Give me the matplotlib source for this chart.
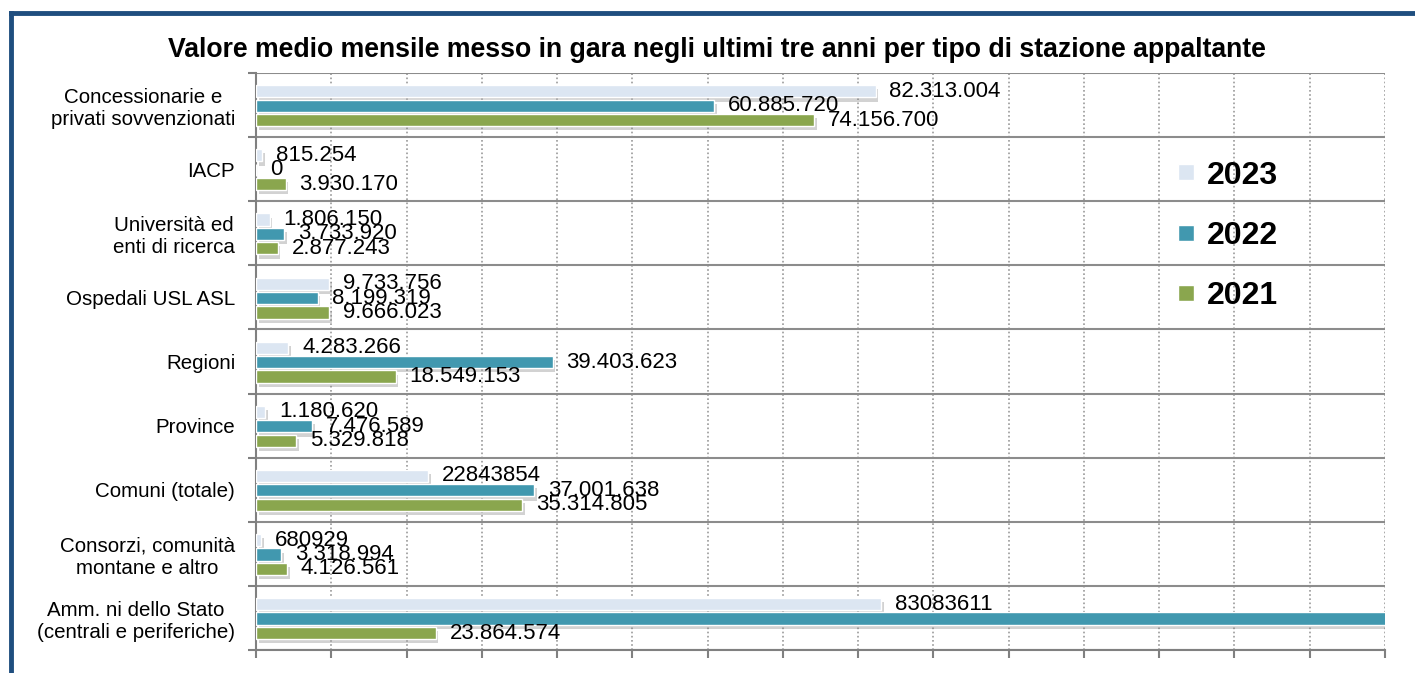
import matplotlib
matplotlib.use('Agg')
import matplotlib.pyplot as plt
import matplotlib.patheffects as pe
from matplotlib.lines import Line2D
import numpy as np

plt.rcParams['font.family'] = ['Liberation Sans', 'DejaVu Sans']

categories = ['Concessionarie e\nprivati sovvenzionati', 'IACP', 'Università ed\nenti di ricerca',
              'Ospedali USL ASL', 'Regioni', 'Province', 'Comuni (totale)',
              'Consorzi, comunità\nmontane e altro', 'Amm. ni dello Stato\n(centrali e periferiche)']
years = ['2023', '2022', '2021']
v2023 = [82313004, 815254, 1806150, 9733756, 4283266, 1180620, 22843854, 680929, 83083611]
v2022 = [60885720, 0, 3733920, 8199319, 39403623, 7476589, 37001638, 3318994, 160000000]
v2021 = [74156700, 3930170, 2877243, 9666023, 18549153, 5329818, 35314805, 4126561, 23864574]
lab2023 = ['82.313.004', '815.254', '1.806.150', '9.733.756', '4.283.266', '1.180.620', '22843854', '680929', '83083611']
lab2022 = ['60.885.720', '0', '3.733.920', '8.199.319', '39.403.623', '7.476.589', '37.001.638', '3.318.994', '']
lab2021 = ['74.156.700', '3.930.170', '2.877.243', '9.666.023', '18.549.153', '5.329.818', '35.314.805', '4.126.561', '23.864.574']
colors = ['#dce6f2', '#4198af', '#8aa64e']

W, H = 1415, 673
fig = plt.figure(figsize=(W / 100, H / 100), dpi=100)
ax = fig.add_axes([256 / W, 1 - 650 / H, (1385 - 256) / W, (650 - 73) / H])

y = np.arange(len(categories))
offsets = [-0.215, 0.01, 0.235]
shadow = [pe.SimplePatchShadow(offset=(2, -3), shadow_rgbFace='#808080', alpha=0.35), pe.Normal()]
for vals, labs, off, c in zip([v2023, v2022, v2021], [lab2023, lab2022, lab2021], offsets, colors):
    bars = ax.barh(y + off, vals, height=0.19, color=c, edgecolor='white', linewidth=1, zorder=3)
    for b in bars:
        b.set_path_effects(shadow)
    for yi, v, t in zip(y + off, vals, labs):
        if t:
            ax.annotate(t, (v, yi), xytext=(10, 0), textcoords='offset points',
                        va='center', ha='left', fontsize=16, zorder=5)

ax.set_xlim(0, 150000000)
ax.set_ylim(len(categories) - 0.5, -0.5)
ax.set_xticks(np.arange(0, 150000001, 10000000))
ax.set_xticklabels([])
ax.tick_params(axis='x', direction='out', length=6, width=1.5, color='#808080')
ax.xaxis.grid(True, linestyle=(0, (1, 1.5)), color='#999999', linewidth=1.2, zorder=0)

ax.set_yticks(np.arange(-0.5, len(categories), 1.0))
ax.set_yticklabels([])
ax.tick_params(axis='y', which='major', direction='out', length=6, width=1.5, color='#808080')
ax.yaxis.grid(True, which='major', color='#8c8c8c', linewidth=1.5, zorder=1)
ax.set_yticks(y, minor=True)
ax.set_yticklabels(categories, minor=True, fontsize=14.8)
ax.tick_params(axis='y', which='minor', length=0, pad=15)
for lbl in ax.get_yticklabels(minor=True):
    lbl.set_multialignment('center')

for s in ['top', 'right']:
    ax.spines[s].set_visible(False)
for s in ['left', 'bottom']:
    ax.spines[s].set_color('#808080')
    ax.spines[s].set_linewidth(1.5)

handles = [Line2D([], [], marker='s', linestyle='none', markersize=11, color=c, markeredgecolor='white')
           for c in colors]
leg = ax.legend(handles, years, loc='center left', bbox_to_anchor=(1148 / W, 1 - 236 / H),
                bbox_transform=fig.transFigure, frameon=False, handlelength=0.6, handletextpad=0.35,
                labelspacing=0.95, prop={'weight': 'bold', 'size': 23})

fig.text(717 / W, 1 - 50 / H,
         'Valore medio mensile messo in gara negli ultimi tre anni per tipo di stazione appaltante',
         ha='center', va='center', fontsize=19.2, fontweight='bold')

# dark blue frame (only left and top edges visible)
fig.add_artist(Line2D([11 / W, 11 / W], [0, 1 - 13 / H], transform=fig.transFigure,
                      color='#1f4e7f', linewidth=3.5, solid_capstyle='projecting'))
fig.add_artist(Line2D([11 / W, 1], [1 - 13 / H, 1 - 13 / H], transform=fig.transFigure,
                      color='#1f4e7f', linewidth=3.5, solid_capstyle='projecting'))

fig.savefig('out.png', dpi=100)
